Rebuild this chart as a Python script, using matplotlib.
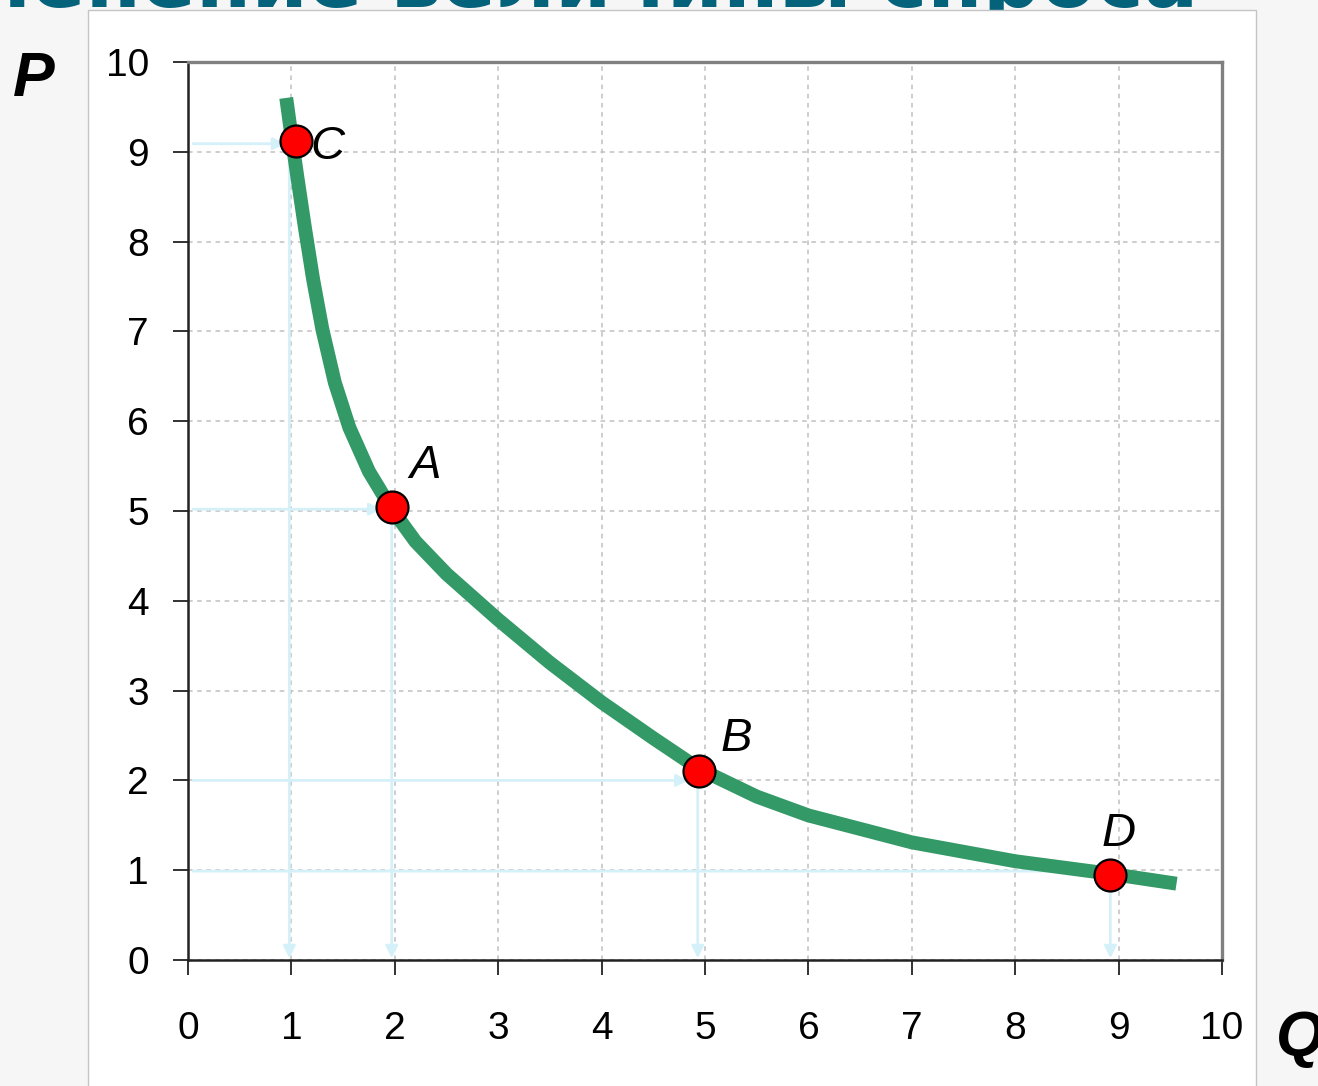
import matplotlib.pyplot as plt
from matplotlib.patches import Rectangle

# demand curve
curve_q = [0.95, 1.00, 1.06, 1.13, 1.21, 1.30, 1.42, 1.56, 1.75, 1.96, 2.20, 2.50,
           3.00, 3.50, 4.00, 4.50, 4.94, 5.50, 6.00, 7.00, 8.00, 8.92, 9.56]
curve_p = [9.60, 9.18, 8.70, 8.16, 7.58, 7.02, 6.43, 5.93, 5.44, 5.04, 4.66, 4.30,
           3.79, 3.31, 2.87, 2.47, 2.13, 1.82, 1.61, 1.31, 1.10, 0.96, 0.85]

# marked points
point_names = ['C', 'A', 'B', 'D']
point_q = [1.04, 1.97, 4.94, 8.92]
point_p = [9.12, 5.04, 2.11, 0.95]

# light blue guide arrows (x of the vertical one, y of the horizontal one)
guide_q = [0.98, 1.97, 4.93, 8.92]
guide_p = [9.09, 5.02, 2.00, 0.99]

ticks = list(range(0, 11))
title = 'Изменение величины спроса'

fig = plt.figure(figsize=(13.18, 10.86), dpi=100)
fig.patch.set_facecolor('#f6f6f6')

# slide title, mostly off the top edge, partly covered by the white panel
fig.text(1198 / 1318, 1 - 7 / 1086, title, ha='right', va='baseline',
         fontsize=58, fontweight='bold', color='#04627b',
         family='DejaVu Sans', zorder=0)
fig.patches.append(Rectangle((88 / 1318, -0.01), (1256 - 88) / 1318, 1 - 10 / 1086 + 0.01,
                             transform=fig.transFigure, facecolor='white',
                             edgecolor='#c4c4c4', lw=1, zorder=0.5))

ax = fig.add_axes([188 / 1318, 1 - 960 / 1086, (1222 - 188) / 1318, (960 - 62) / 1086])
ax.set_zorder(1)
ax.set_facecolor('white')

ax.plot(curve_q, curve_p, color='#339966', lw=10, solid_capstyle='butt',
        solid_joinstyle='round', zorder=3)

guide_color = '#d4f0f8'
for q, p, gq, gp in zip(point_q, point_p, guide_q, guide_p):
    ax.annotate('', xy=(q - 0.1, gp), xytext=(0.05, gp),
                arrowprops=dict(arrowstyle='-|>', color=guide_color, lw=2,
                                mutation_scale=18, shrinkA=0, shrinkB=0), zorder=2)
    ax.annotate('', xy=(gq, 0.02), xytext=(gq, p - 0.1),
                arrowprops=dict(arrowstyle='-|>', color=guide_color, lw=2,
                                mutation_scale=18, shrinkA=0, shrinkB=0), zorder=2)

ax.plot(point_q, point_p, 'o', ms=23, mfc='#ff0000', mec='black', mew=1.6,
        zorder=4, clip_on=False)

offsets = {'C': (23, -4), 'A': (24, 30), 'B': (27, 23), 'D': (6, 29)}
for name, q, p in zip(point_names, point_q, point_p):
    ax.annotate(name, (q, p), xytext=offsets[name], textcoords='offset points',
                ha='center', va='center', fontsize=34, fontstyle='italic',
                family='Liberation Sans', zorder=5)

ax.set_xlim(0, 10)
ax.set_ylim(0, 10)
ax.set_xticks(ticks)
ax.set_yticks(ticks)
ax.grid(True, color='#c0c0c0', lw=1.1, linestyle=(0, (3, 3)))
ax.set_axisbelow(True)

for side in ['top', 'right']:
    ax.spines[side].set_color('#808080')
    ax.spines[side].set_linewidth(2.4)
for side in ['left', 'bottom']:
    ax.spines[side].set_color('#222222')
    ax.spines[side].set_linewidth(1.8)

ax.tick_params(axis='both', direction='out', length=11, width=1.3, color='#222222',
               labelsize=28)
ax.tick_params(axis='x', pad=26)
ax.tick_params(axis='y', pad=17)
for lab in ax.get_xticklabels() + ax.get_yticklabels():
    lab.set_family('Liberation Sans')

fig.text(34 / 1318, 1 - 80 / 1086, 'P', ha='center', va='center', fontsize=45,
         fontweight='bold', fontstyle='italic', family='Liberation Sans', zorder=3)
fig.text(1300 / 1318, 1 - 1038 / 1086, 'Q', ha='center', va='center', fontsize=45,
         fontweight='bold', fontstyle='italic', family='Liberation Sans', zorder=3)

fig.savefig('out.png', dpi=100, facecolor=fig.get_facecolor())
